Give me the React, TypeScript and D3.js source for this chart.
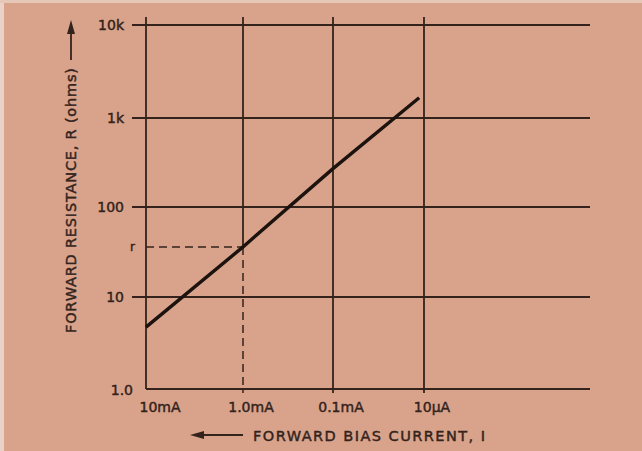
import * as d3 from "d3";
import { useEffect, useRef } from "react";

// Log-log grid, hand drawn so decade spacing is slightly uneven
const currentTicks = [10, 1, 0.1, 0.01]; // mA
const currentTickLabels = ["10mA", "1.0mA", "0.1mA", "10µA"];
const resistanceTicks = [1, 10, 100, 1000, 10000]; // ohms
const resistanceTickLabels = ["1.0", "10", "100", "1k", "10k"];

// the curve
const curveCurrent = [10, 1.0, 0.1, 0.0113];
const curveResistance = [4.7, 36, 270, 1650];

// the "r" marker at 1.0 mA
const markerCurrent = 1.0;
const markerResistance = 36;

const W = 642;
const H = 451;

export default function App() {
  const svgRef = useRef<SVGSVGElement | null>(null);

  useEffect(() => {
    if (!svgRef.current) return;
    const svg = d3.select(svgRef.current);
    svg.selectAll("*").remove();

    const ink = "#34231c";
    const font = "'DejaVu Sans', sans-serif";

    // background paper
    svg.append("rect").attr("width", W).attr("height", H).attr("fill", "#d9a38b");
    svg.append("rect").attr("width", 4).attr("height", H).attr("fill", "#ead2c6");
    svg.append("rect").attr("width", W).attr("height", 3).attr("fill", "#e6c8b9");

    // piecewise log scales follow the drawn grid
    const x = d3.scaleLog().domain(currentTicks).range([146, 243, 333, 424]);
    const y = d3.scaleLog().domain(resistanceTicks).range([389, 297, 207, 118, 25]);

    const gridLeft = 132;
    const gridRight = 590;
    const gridTop = 17;
    const gridBottom = 393;

    const g = svg.append("g");

    // horizontal grid lines (bottom axis has no tick to the left)
    g.selectAll(".hgrid")
      .data(resistanceTicks)
      .join("line")
      .attr("x1", (d) => (d === 1 ? x(10) : gridLeft))
      .attr("x2", gridRight)
      .attr("y1", (d) => y(d))
      .attr("y2", (d) => y(d))
      .attr("stroke", ink)
      .attr("stroke-width", 1.8);

    // vertical grid lines (1.0mA line is dashed below r)
    g.selectAll(".vgrid")
      .data(currentTicks)
      .join("line")
      .attr("x1", (d) => x(d))
      .attr("x2", (d) => x(d))
      .attr("y1", gridTop)
      .attr("y2", (d) => (d === markerCurrent ? y(markerResistance) : d === 10 ? y(1) : gridBottom))
      .attr("stroke", ink)
      .attr("stroke-width", 1.8);

    // dashed guide lines for r
    g.append("line")
      .attr("x1", x(10))
      .attr("x2", x(markerCurrent))
      .attr("y1", y(markerResistance))
      .attr("y2", y(markerResistance))
      .attr("stroke", ink)
      .attr("stroke-width", 1.5)
      .attr("stroke-dasharray", "8,5");
    g.append("line")
      .attr("x1", x(markerCurrent))
      .attr("x2", x(markerCurrent))
      .attr("y1", y(markerResistance))
      .attr("y2", gridBottom)
      .attr("stroke", ink)
      .attr("stroke-width", 1.5)
      .attr("stroke-dasharray", "8,5");

    // the curve
    const pts = curveCurrent.map((c, i) => ({ c, r: curveResistance[i] }));
    const line = d3
      .line<{ c: number; r: number }>()
      .x((d) => x(d.c))
      .y((d) => y(d.r));
    g.append("path")
      .datum(pts)
      .attr("fill", "none")
      .attr("stroke", "#1c120e")
      .attr("stroke-width", 3.4)
      .attr("d", line);

    const label = (sel: d3.Selection<any, any, any, any>, size: number) =>
      sel
        .attr("font-family", font)
        .attr("font-size", size)
        .attr("fill", ink)
        .attr("stroke", ink)
        .attr("stroke-width", 0.45);

    // y tick labels
    label(
      g.selectAll(".ylab")
        .data(resistanceTicks)
        .join("text")
        .attr("x", (d) => (d === 1 ? 133 : 124))
        .attr("y", (d) => (d === 1 ? y(d) + 6 : y(d) + 5))
        .attr("text-anchor", "end")
        .text((d, i) => resistanceTickLabels[i]),
      14
    );

    label(
      g.append("text")
        .attr("x", 135)
        .attr("y", y(markerResistance) + 4)
        .attr("text-anchor", "end")
        .text("r"),
      12
    );

    // x tick labels
    label(
      g.selectAll(".xlab")
        .data(currentTicks)
        .join("text")
        .attr("x", (d) => x(d) + (d === 10 ? 14 : 8))
        .attr("y", 412)
        .attr("text-anchor", "middle")
        .text((d, i) => currentTickLabels[i]),
      14
    );

    // x axis title with left arrow
    g.append("line")
      .attr("x1", 200)
      .attr("x2", 243)
      .attr("y1", 435)
      .attr("y2", 435)
      .attr("stroke", ink)
      .attr("stroke-width", 1.8);
    g.append("path").attr("d", "M190,435 L204,431 L204,439 Z").attr("fill", ink);
    label(
      g.append("text")
        .attr("x", 253)
        .attr("y", 441)
        .attr("textLength", 232)
        .attr("lengthAdjust", "spacing")
        .text("FORWARD  BIAS  CURRENT, I"),
      14.5
    );

    // y axis title with up arrow
    const yt = g.append("g").attr("transform", "translate(76,0)");
    label(
      yt.append("text")
        .attr("transform", "rotate(-90)")
        .attr("x", -333)
        .attr("y", 0)
        .attr("textLength", 265)
        .attr("lengthAdjust", "spacing")
        .text("FORWARD RESISTANCE, R (ohms)"),
      14.5
    );
    yt.append("line")
      .attr("x1", -5)
      .attr("x2", -5)
      .attr("y1", 60)
      .attr("y2", 30)
      .attr("stroke", ink)
      .attr("stroke-width", 1.8);
    yt.append("path").attr("d", "M-5,20 L-9,34 L-1,34 Z").attr("fill", ink);
  }, []);

  return (
    <svg
      ref={svgRef}
      width={W}
      height={H}
      style={{ position: "absolute", left: 0, top: 0, display: "block" }}
    />
  );
}
